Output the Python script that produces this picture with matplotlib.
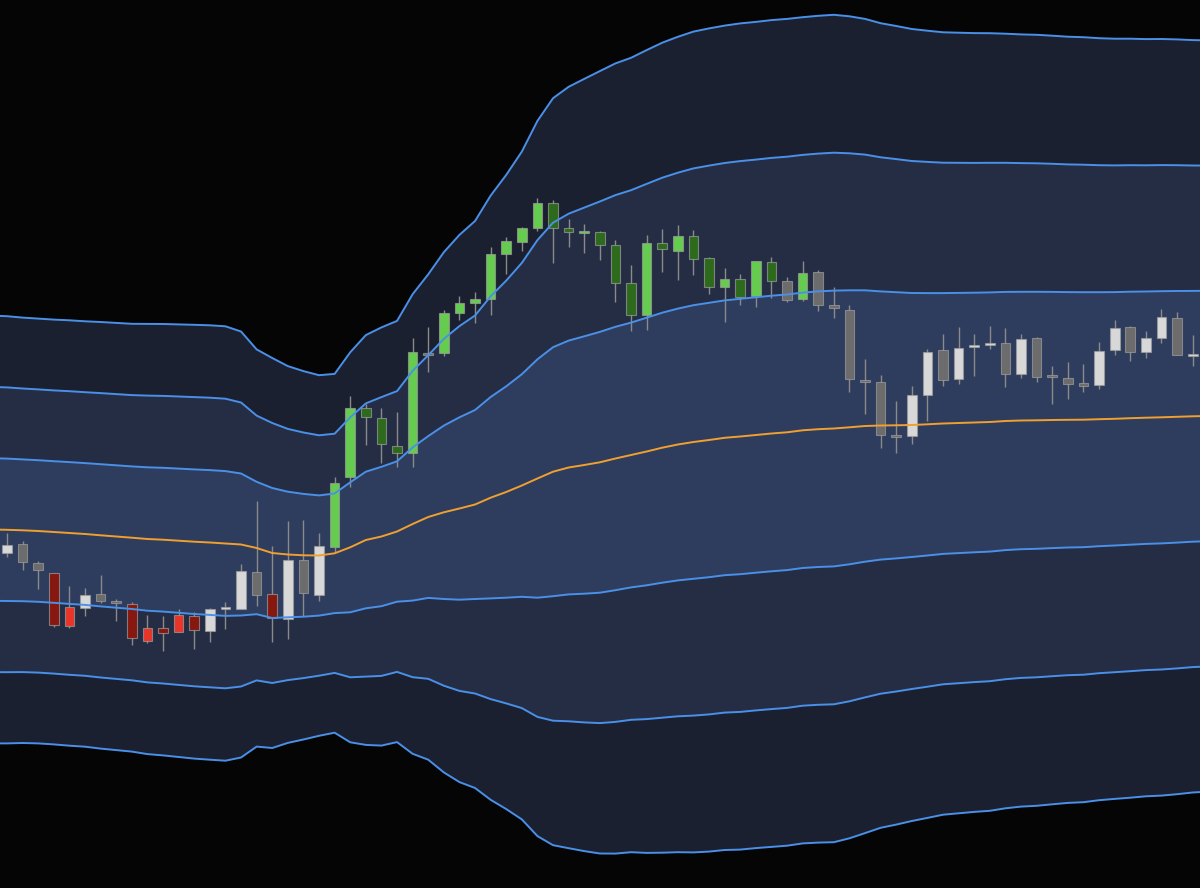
import numpy as np
import matplotlib.pyplot as plt

# candle data (price units), one entry per bar
opens = [94.7, 95.6, 93.7, 92.7, 87.4, 89.2, 90.6, 89.9, 89.6, 85.9,
         87.2, 86.8, 88.4, 86.9, 89.1, 89.1, 92.8, 90.6, 88.1, 94.0,
         90.5, 95.3, 102.3, 109.2, 108.2, 105.4, 104.7, 114.7, 114.7, 118.7,
         119.7, 120.1, 124.6, 125.8, 127.2, 129.7, 127.2, 126.7, 126.8, 125.5,
         121.7, 118.5, 125.7, 124.9, 126.4, 124.2, 121.3, 122.1, 120.4, 123.8,
         121.9, 120.1, 122.8, 119.5, 119.0, 112.0, 111.8, 106.5, 106.4, 110.5,
         115.0, 112.1, 115.3, 115.5, 115.7, 112.6, 116.2, 112.4, 112.2, 111.7,
         111.5, 115.0, 117.3, 114.8, 116.2, 118.2, 114.4]
closes = [95.5, 93.8, 93.0, 87.5, 89.3, 90.5, 89.9, 89.7, 86.2, 87.2,
          86.7, 88.5, 87.0, 89.1, 89.3, 92.9, 90.5, 88.2, 94.0, 90.7,
          95.4, 101.7, 109.2, 108.3, 105.6, 104.7, 114.8, 114.5, 118.7, 119.7,
          120.1, 124.6, 125.9, 127.2, 129.7, 127.2, 126.8, 126.9, 125.5, 121.7,
          118.5, 125.7, 125.1, 126.4, 124.1, 121.3, 122.1, 120.3, 123.9, 121.9,
          120.0, 122.7, 119.5, 119.2, 112.1, 111.8, 106.5, 106.3, 110.5, 114.8,
          112.0, 115.2, 115.5, 115.7, 112.6, 116.1, 112.3, 112.3, 111.6, 111.4,
          114.9, 117.2, 114.8, 116.2, 118.3, 114.5, 114.5]
highs = [96.7, 95.9, 93.9, 92.7, 91.4, 91.2, 92.5, 90.1, 89.8, 88.5,
         88.4, 89.1, 88.8, 89.2, 89.8, 93.6, 99.9, 95.4, 97.9, 98.0,
         96.7, 102.3, 110.4, 109.6, 109.2, 108.8, 116.2, 117.3, 119.0, 120.4,
         120.8, 125.3, 126.3, 127.3, 130.2, 130.0, 128.1, 127.6, 126.9, 126.0,
         123.5, 126.5, 127.1, 127.5, 127.0, 124.3, 123.2, 122.6, 123.9, 124.3,
         122.3, 123.9, 123.0, 121.3, 119.5, 114.1, 112.5, 109.9, 111.4, 115.1,
         116.6, 117.3, 116.6, 117.4, 117.2, 116.6, 116.3, 113.4, 113.8, 113.6,
         115.8, 118.0, 117.4, 116.9, 119.1, 118.8, 116.5]
lows = [94.3, 93.0, 91.1, 87.3, 87.2, 88.4, 89.7, 87.9, 85.5, 85.7,
        84.9, 86.8, 85.1, 85.8, 87.1, 89.1, 89.4, 85.8, 86.1, 88.4,
        89.9, 94.8, 101.3, 105.5, 103.7, 103.3, 103.3, 112.8, 114.4, 118.0,
        117.7, 118.5, 122.6, 124.9, 126.9, 123.7, 125.3, 124.7, 124.0, 119.8,
        116.9, 117.0, 122.8, 122.0, 122.5, 120.6, 117.8, 119.5, 119.3, 120.2,
        119.8, 119.9, 118.9, 118.2, 110.8, 108.6, 105.2, 104.7, 105.6, 107.9,
        111.4, 111.6, 112.4, 115.1, 111.3, 112.2, 111.8, 109.6, 110.1, 110.8,
        111.1, 114.5, 113.9, 114.2, 115.7, 114.5, 113.4]
# candle colour class: w = light, g = grey, r = red, rd = dark red, gu = green, dg = dark green
kinds = ['w', 'g', 'g', 'rd', 'r', 'w', 'g', 'g', 'rd', 'r',
         'rd', 'r', 'rd', 'w', 'w', 'w', 'g', 'rd', 'w', 'g',
         'w', 'gu', 'gu', 'dg', 'dg', 'dg', 'gu', 'g', 'gu', 'gu',
         'gu', 'gu', 'gu', 'gu', 'gu', 'dg', 'dg', 'gu', 'dg', 'dg',
         'dg', 'gu', 'dg', 'gu', 'dg', 'dg', 'gu', 'dg', 'gu', 'dg',
         'g', 'gu', 'g', 'g', 'g', 'g', 'g', 'g', 'w', 'w',
         'g', 'w', 'w', 'w', 'g', 'w', 'g', 'g', 'g', 'g',
         'w', 'w', 'g', 'w', 'w', 'g', 'w']

# band basis and deviation, bars -1 .. 77
band_mid = [97.05, 97.02, 96.97, 96.9, 96.8, 96.7, 96.6, 96.47, 96.35, 96.23,
            96.1, 96.03, 95.93, 95.83, 95.75, 95.65, 95.55, 95.2, 94.7, 94.55,
            94.47, 94.45, 94.67, 95.27, 96.0, 96.35, 96.85, 97.6, 98.3, 98.77,
            99.15, 99.55, 100.23, 100.8, 101.45, 102.15, 102.83, 103.25, 103.5, 103.77,
            104.15, 104.5, 104.85, 105.23, 105.55, 105.8, 106.0, 106.22, 106.35, 106.5,
            106.65, 106.77, 106.97, 107.08, 107.15, 107.27, 107.4, 107.45, 107.47, 107.5,
            107.57, 107.65, 107.7, 107.75, 107.8, 107.9, 107.95, 107.97, 108.0, 108.02,
            108.03, 108.08, 108.12, 108.18, 108.23, 108.27, 108.32, 108.37, 108.4]
band_dev = [7.13, 7.12, 7.09, 7.08, 7.08, 7.09, 7.09, 7.11, 7.12, 7.13,
            7.17, 7.19, 7.21, 7.23, 7.24, 7.24, 7.1, 6.62, 6.5, 6.28,
            6.14, 6.01, 5.98, 6.5, 6.83, 6.97, 7.02, 7.66, 8.09, 8.67,
            9.12, 9.45, 10.07, 10.57, 11.13, 11.92, 12.45, 12.69, 12.87, 13.04,
            13.17, 13.24, 13.38, 13.5, 13.59, 13.68, 13.72, 13.74, 13.77, 13.77,
            13.78, 13.78, 13.77, 13.78, 13.79, 13.7, 13.57, 13.41, 13.31, 13.2,
            13.12, 13.04, 13.01, 12.98, 12.96, 12.91, 12.87, 12.85, 12.81, 12.77,
            12.75, 12.7, 12.67, 12.65, 12.62, 12.61, 12.58, 12.54, 12.52]

body_colors = {'w': '#d8d8d8', 'g': '#6c6c6c', 'r': '#e8352a', 'rd': '#86180f',
               'gu': '#66cc4f', 'dg': '#2e6a1c'}
fill_colors = ['#1b2030', '#242d44', '#2e3d5e']
line_blue = '#4a90e8'

fig = plt.figure(figsize=(12, 8.88), dpi=100, facecolor='#050505')
ax = fig.add_axes([0, 0, 1, 1])
ax.set_facecolor('#050505')

bx = np.arange(-1, len(band_mid) - 1)
mid = np.array(band_mid)
dev = np.array(band_dev)

# shaded bands, outer to inner
for k, col in zip([3, 2, 1], fill_colors):
    ax.fill_between(bx, mid - k * dev, mid + k * dev, color=col, lw=0, zorder=1)

# candles
x = np.arange(len(opens))
o = np.array(opens)
c = np.array(closes)
ax.vlines(x, lows, highs, color='#8a8a8a', lw=1, zorder=3)
bottoms = np.minimum(o, c)
heights = np.maximum(np.abs(c - o), 0.2)
ax.bar(x, heights, bottom=bottoms, width=0.62,
       color=[body_colors[k] for k in kinds],
       edgecolor=(0.62, 0.62, 0.62, 0.7), linewidth=0.8, zorder=4)

# band lines on top
for k in [1, 2, 3]:
    ax.plot(bx, mid + k * dev, color=line_blue, lw=1.4, zorder=5)
    ax.plot(bx, mid - k * dev, color=line_blue, lw=1.4, zorder=5)
ax.plot(bx, mid, color='#f0a030', lw=1.4, zorder=5)

ax.set_xlim(-0.45, 76.47)
ax.set_ylim(61.2, 150)
ax.axis('off')

fig.savefig('out.png', dpi=100, facecolor=fig.get_facecolor())
